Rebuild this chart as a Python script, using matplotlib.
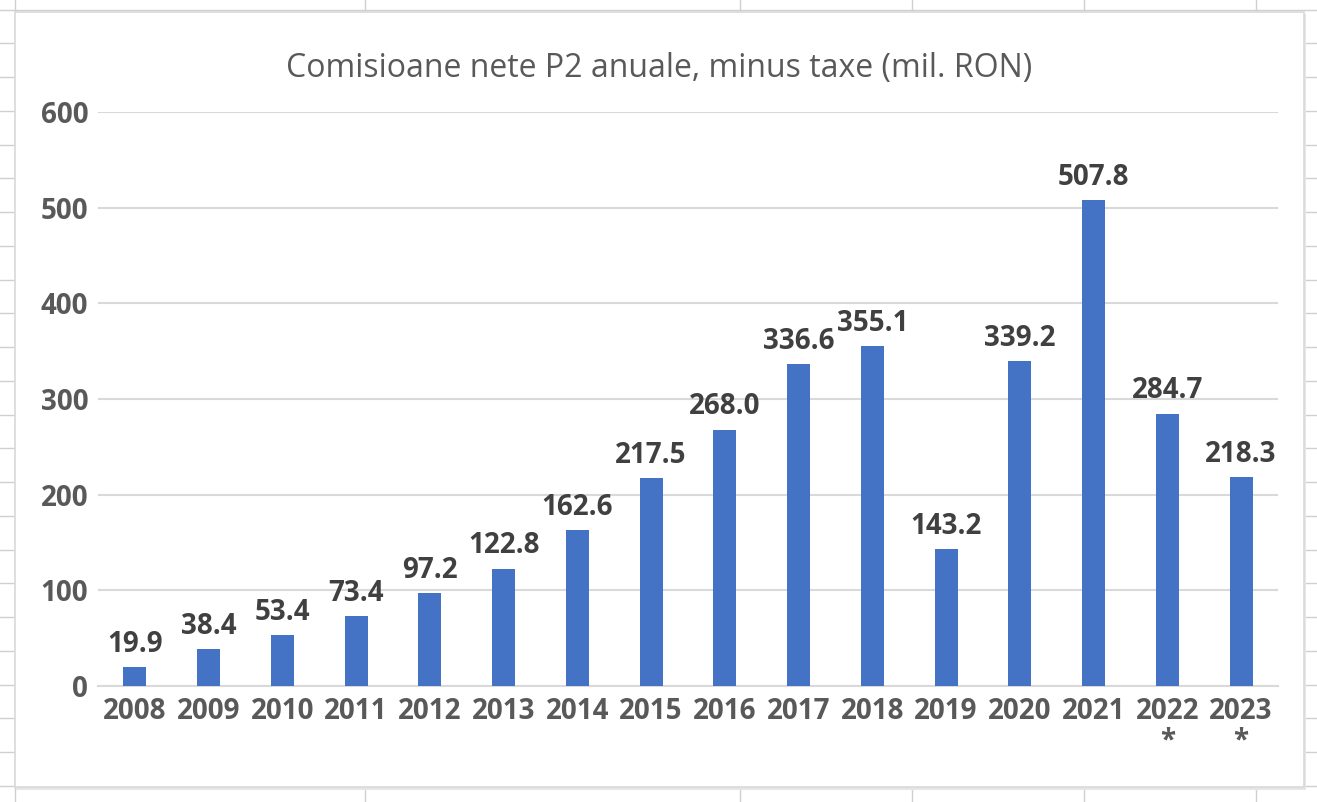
import matplotlib
matplotlib.use("Agg")
import matplotlib.pyplot as plt
import numpy as np

years = ["2008", "2009", "2010", "2011", "2012", "2013", "2014", "2015",
         "2016", "2017", "2018", "2019", "2020", "2021", "2022", "2023"]
values = [19.9, 38.4, 53.4, 73.4, 97.2, 122.8, 162.6, 217.5,
          268.0, 336.6, 355.1, 143.2, 339.2, 507.8, 284.7, 218.3]
starred = ["2022", "2023"]
title = "Comisioane nete P2 anuale, minus taxe (mil. RON)"

plt.rcParams['font.family'] = ['Open Sans', 'DejaVu Sans']

W, H = 1317, 802
fig = plt.figure(figsize=(W / 100, H / 100), dpi=100)

# spreadsheet behind the chart
bg = fig.add_axes([0, 0, 1, 1])
bg.set_xlim(0, W)
bg.set_ylim(H, 0)
bg.axis('off')
cell_col = '#d0d0d0'
for y in np.arange(43.3 - 33.75, H, 33.75):
    bg.plot([0, W], [y, y], color=cell_col, lw=1, zorder=1)
for x in [15, 365, 740, 912, 1084, 1256]:
    bg.plot([x, x], [0, H], color=cell_col, lw=1, zorder=1)
bg.add_patch(plt.Rectangle((16, 14), 1290, 776, facecolor='#e6e6e6',
                           edgecolor='none', zorder=2))
bg.add_patch(plt.Rectangle((15, 12), 1289, 775, facecolor='white',
                           edgecolor='#d9d9d9', lw=1.2, zorder=3))

ax = fig.add_axes([98 / W, 1 - 686 / H, 1180 / W, (686 - 112) / H])
ax.set_facecolor('none')
x = np.arange(len(years))
ax.bar(x, values, width=0.31, color='#4472C4', zorder=3)

for xi, v in zip(x, values):
    ax.annotate(f"{v:.1f}", (xi, v), xytext=(0, 11), textcoords='offset points',
                ha='center', va='baseline', fontsize=20, fontweight='bold',
                color='#404040')

ax.set_xlim(-0.5, len(years) - 0.5)
ax.set_ylim(0, 600)
ax.set_yticks(range(0, 601, 100))
ax.yaxis.grid(True, color='#d9d9d9', lw=1.5, zorder=0)
ax.set_axisbelow(True)
labels = [y + "\n*" if y in starred else y for y in years]
ax.set_xticks(x)
ax.set_xticklabels(labels, linespacing=1.0)
ax.tick_params(axis='both', length=0, labelsize=20, labelcolor='#595959')
ax.tick_params(axis='x', pad=8)
ax.tick_params(axis='y', pad=7)
for lab in ax.get_xticklabels() + ax.get_yticklabels():
    lab.set_fontweight('bold')
for s in ['top', 'right', 'left']:
    ax.spines[s].set_visible(False)
ax.spines['bottom'].set_color('#d9d9d9')
ax.spines['bottom'].set_linewidth(1.5)

fig.text(659 / W, 1 - 77 / H, title, ha='center', va='baseline',
         fontsize=23, color='#595959')

fig.savefig('out.png', dpi=100)
